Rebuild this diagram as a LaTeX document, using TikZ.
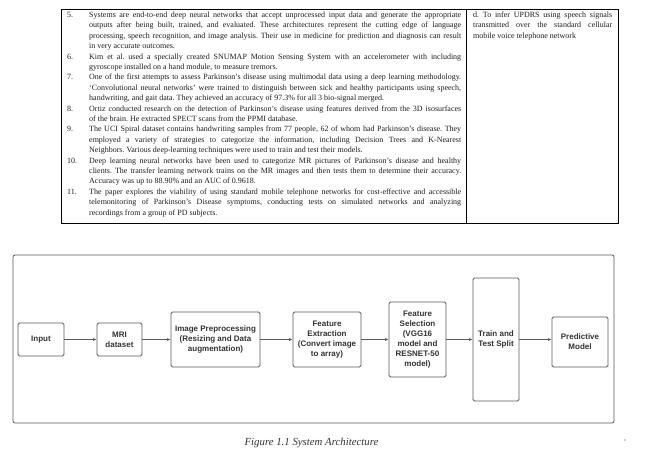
\documentclass[tikz,border=0pt]{standalone}
\usepackage{fontspec}
\setmainfont{Liberation Serif}
\newfontfamily\flowfont{Liberation Sans}
\usetikzlibrary{arrows.meta}
\definecolor{flowline}{HTML}{5A5A5A}
\definecolor{flowtext}{HTML}{333333}
\definecolor{tabtextc}{HTML}{1E1E1E}
\frenchspacing
\newcommand{\JL}[1]{\makebox[\linewidth][s]{#1}}
\newcommand{\tabfont}{\fontsize{8}{10.4}\selectfont}
\tikzset{
  num/.style={anchor=base west, inner sep=0pt, font=\tabfont, text=tabtextc},
  para/.style={anchor=base west, inner sep=0pt, font=\tabfont, text=tabtextc},
  tabline/.style={line width=0.9pt, draw=black},
  fbox/.style={draw=flowline, line width=0.8pt, rounded corners=1.5pt, align=center,
    font=\flowfont\bfseries\fontsize{8}{9.9}\selectfont, text=flowtext, inner sep=0pt},
  arr/.style={draw=flowline, line width=0.6pt, -{Latex[length=3.5pt,width=3pt]}},
}
\begin{document}
\begin{tikzpicture}[x=1pt,y=-1pt]
\useasboundingbox (0,0) rectangle (645,456);
\fill[white] (0,0) rectangle (645,456);
% ---- table ----
\draw[tabline] (61,9) rectangle (618,223);
\draw[tabline] (466,9) -- (466,223);
\node[num] (n5) at (67,17.5) {5.};
\node[para] (p5) at (89,17.5) {\parbox[t]{372pt}{%
\JL{Systems are end-to-end deep neural networks that accept unprocessed input data and generate the appropriate}\\
\JL{outputs after being built, trained, and evaluated. These architectures represent the cutting edge of language}\\
\JL{processing, speech recognition, and image analysis. Their use in medicine for prediction and diagnosis can result}\\
in very accurate outcomes.}};
\node[num] (n6) at (67,59.1) {6.};
\node[para] (p6) at (89,59.1) {\parbox[t]{372pt}{%
\JL{Kim et al. used a specially created SNUMAP Motion Sensing System with an accelerometer with including}\\
gyroscope installed on a hand module, to measure tremors.}};
\node[num] (n7) at (67,79.9) {7.};
\node[para] (p7) at (89,79.9) {\parbox[t]{372pt}{%
\JL{One of the first attempts to assess Parkinson's disease using multimodal data using a deep learning methodology.}\\
\JL{‘Convolutional neural networks’ were trained to distinguish between sick and healthy participants using speech,}\\
handwriting, and gait data. They achieved an accuracy of 97.3\% for all 3 bio-signal merged.}};
\node[num] (n8) at (67,111.1) {8.};
\node[para] (p8) at (89,111.1) {\parbox[t]{372pt}{%
\JL{Ortiz conducted research on the detection of Parkinson's disease using features derived from the 3D isosurfaces}\\
of the brain. He extracted SPECT scans from the PPMI database.}};
\node[num] (n9) at (67,131.9) {9.};
\node[para] (p9) at (89,131.9) {\parbox[t]{372pt}{%
\JL{The UCI Spiral dataset contains handwriting samples from 77 people, 62 of whom had Parkinson's disease. They}\\
\JL{employed a variety of strategies to categorize the information, including Decision Trees and K-Nearest}\\
Neighbors. Various deep-learning techniques were used to train and test their models.}};
\node[num] (n10) at (67,163.1) {10.};
\node[para] (p10) at (89,163.1) {\parbox[t]{372pt}{%
\JL{Deep learning neural networks have been used to categorize MR pictures of Parkinson's disease and healthy}\\
\JL{clients. The transfer learning network trains on the MR images and then tests them to determine their accuracy.}\\
Accuracy was up to 88.90\% and an AUC of 0.9618.}};
\node[num] (n11) at (67,194.3) {11.};
\node[para] (p11) at (89,194.3) {\parbox[t]{372pt}{%
\JL{The paper explores the viability of using standard mobile telephone networks for cost-effective and accessible}\\
\JL{telemonitoring of Parkinson's Disease symptoms, conducting tests on simulated networks and analyzing}\\
recordings from a group of PD subjects.}};
\node[para] (pd) at (473,17.5) {\parbox[t]{139pt}{%
\JL{d. To infer UPDRS using speech signals}\\
\JL{transmitted over the standard cellular}\\
mobile voice telephone network}};
% ---- flowchart ----
\draw[draw=flowline, line width=0.8pt, rounded corners=2pt] (13,255) rectangle (614,423);
\node[fbox, minimum width=46pt, minimum height=33pt] (input) at (41,339.5) {Input};
\node[fbox, minimum width=45pt, minimum height=33pt] (mri) at (119.5,339.5) {MRI\\dataset};
\node[fbox, minimum width=89pt, minimum height=55pt] (pre) at (215.5,339.5) {Image Preprocessing\\(Resizing and Data\\augmentation)};
\node[fbox, minimum width=68pt, minimum height=55pt] (ext) at (327,339.5) {Feature\\Extraction\\(Convert image\\to array)};
\node[fbox, minimum width=57pt, minimum height=75pt] (sel) at (417.5,339.5) {Feature\\Selection\\(VGG16\\model and\\RESNET-50\\model)};
\node[fbox, minimum width=46pt, minimum height=123pt] (split) at (496,339.5) {Train and\\Test Split};
\node[fbox, minimum width=56pt, minimum height=50pt] (pred) at (580,342) {Predictive\\Model};
\draw[arr] (input) -- (mri);
\draw[arr] (mri) -- (pre);
\draw[arr] (pre) -- (ext);
\draw[arr] (ext) -- (sel);
\draw[arr] (sel) -- (split);
\draw[arr] (split.east) -- (split.east -| pred.west);
% ---- caption ----
\node[inner sep=0pt, font=\itshape\fontsize{10.8}{12}\selectfont, text=flowtext] (cap) at (311.5,443) {Figure 1.1 System Architecture};
\fill[flowtext] (625,440) circle (0.6pt);
\end{tikzpicture}
\end{document}
